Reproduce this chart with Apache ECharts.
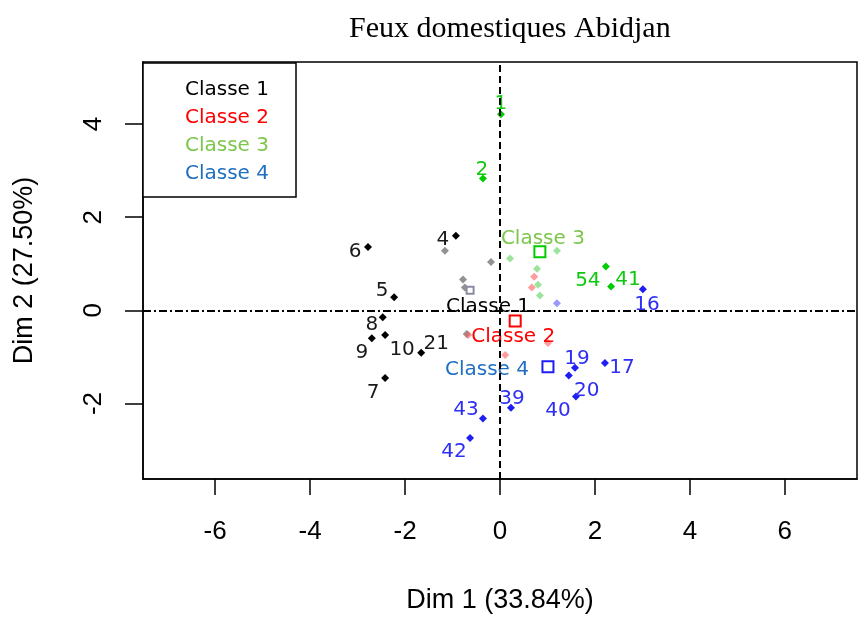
<!DOCTYPE html>
<html>
<head>
<meta charset="utf-8">
<script src="https://cdn.jsdelivr.net/npm/echarts@6/dist/echarts.min.js"></script>
<style>
  html, body { margin: 0; padding: 0; background: #fff; }
  #chart { width: 858px; height: 619px; }
</style>
</head>
<body>
<div id="chart"></div>
<script>
// class names for the legend and the centres
const classNames = ['Classe 1', 'Classe 2', 'Classe 3', 'Classe 4'];

// labelled individuals, per class
const c1Names = ['4', '5', '6', '7', '8', '9', '10', '21'];
const c1X = [-0.93, -2.23, -2.78, -2.42, -2.47, -2.70, -2.42, -1.66];
const c1Y = [1.60, 0.28, 1.36, -1.45, -0.15, -0.60, -0.53, -0.91];

const c3Names = ['1', '2', '54', '41'];
const c3X = [0.02, -0.36, 2.23, 2.34];
const c3Y = [4.21, 2.83, 0.94, 0.51];

const c4Names = ['16', '17', '19', '20', '39', '40', '42', '43'];
const c4X = [3.01, 2.21, 1.58, 1.45, 0.23, 1.60, -0.63, -0.36];
const c4Y = [0.45, -1.13, -1.23, -1.40, -2.09, -1.85, -2.74, -2.32];

// unlabelled (faint) points, per class
const c1FaintX = [-1.16, -0.19, -0.78, -0.74, -0.70];
const c1FaintY = [1.28, 1.04, 0.66, 0.49, -0.51];
const c2FaintX = [0.72, 0.67, 0.11, 1.01, -0.67];
const c2FaintY = [0.72, 0.49, -0.96, -0.70, -0.53];
const c3FaintX = [0.21, 0.78, 0.80, 0.84, 1.20];
const c3FaintY = [1.11, 0.89, 0.55, 0.32, 1.28];
const c4FaintX = [1.20];
const c4FaintY = [0.15];

// class centres
const centerX = [-0.63, 0.32, 0.84, 1.01];
const centerY = [0.43, -0.23, 1.26, -1.21];

// axis ticks
const xTicks = [-6, -4, -2, 0, 2, 4, 6];
const yTicks = [-2, 0, 2, 4];

// styling
const pointColors = ['#000000', '#ff0000', '#00cc00', '#1e1ef5'];
const labelColors = ['#1a1a1a', '#ff0000', '#10c810', '#2e2ef5'];
const classColors = ['#000000', '#ff0000', '#7cc64c', '#1f6fc0'];
const faintColors = ['rgba(110,110,110,0.75)', 'rgba(255,90,90,0.6)', 'rgba(90,210,90,0.6)', 'rgba(110,110,255,0.7)'];
const labelOffsets = {
  '1': [0, -10], '2': [-1, -9], '4': [-13, 4], '5': [-12, -6], '6': [-13, 5],
  '7': [-12, 15], '8': [-11, 7], '9': [-10, 15], '10': [17, 15], '21': [15, -9],
  '54': [-18, 14], '41': [17, -7], '16': [4, 15], '17': [17, 5], '19': [2, -9],
  '20': [18, 15], '39': [1, -9], '40': [-18, 14], '42': [-16, 14], '43': [-17, -9]
};
const centerLabelOffsets = [[18, 16], [-2, 16], [3, -13], [-61, 3]];

function labelled(names, xs, ys) {
  return names.map((n, i) => ({
    name: n,
    value: [xs[i], ys[i]],
    label: { offset: labelOffsets[n] }
  }));
}
function plain(xs, ys) {
  return xs.map((x, i) => [x, ys[i]]);
}

const labelledSets = [
  [c1Names, c1X, c1Y, 0],
  [c3Names, c3X, c3Y, 2],
  [c4Names, c4X, c4Y, 3]
];
const faintSets = [
  [c1FaintX, c1FaintY], [c2FaintX, c2FaintY], [c3FaintX, c3FaintY], [c4FaintX, c4FaintY]
];

const series = [];

// faint points first, so they sit underneath
faintSets.forEach(([xs, ys], k) => {
  series.push({
    name: classNames[k],
    type: 'scatter',
    symbol: 'diamond',
    symbolSize: 8,
    silent: true,
    itemStyle: { color: faintColors[k], opacity: 1 },
    data: plain(xs, ys)
  });
});

// class centres as hollow squares with class labels
classNames.forEach((c, k) => {
  series.push({
    name: c,
    type: 'scatter',
    symbol: 'emptyRect',
    symbolSize: k === 0 ? 7 : 11,
    itemStyle: { color: k === 2 ? '#00cc00' : (k === 0 ? '#8a8aa0' : pointColors[k]), borderWidth: 2, opacity: 1 },
    label: {
      show: true,
      position: 'inside',
      formatter: c,
      offset: centerLabelOffsets[k],
      fontFamily: 'DejaVu Sans',
      fontSize: 20,
      color: classColors[k]
    },
    data: [[centerX[k], centerY[k]]]
  });
});

labelledSets.forEach(([names, xs, ys, k]) => {
  series.push({
    name: classNames[k],
    type: 'scatter',
    symbol: 'diamond',
    symbolSize: 8,
    itemStyle: { color: pointColors[k], opacity: 1 },
    label: {
      show: true,
      position: 'inside',
      formatter: '{b}',
      fontFamily: 'DejaVu Sans',
      fontSize: 20,
      color: labelColors[k]
    },
    data: labelled(names, xs, ys)
  });
});

// dashed reference lines through the origin
series[0].markLine = {
  silent: true,
  symbol: 'none',
  label: { show: false },
  data: [
    { xAxis: 0, lineStyle: { type: [7, 4], width: 2, color: '#000' } },
    { yAxis: 0, lineStyle: { type: [8, 3, 2, 3], width: 1.8, color: '#000' } }
  ]
};

const chart = echarts.init(document.getElementById('chart'));
chart.setOption({
  backgroundColor: '#fff',
  animation: false,
  title: {
    text: 'Feux domestiques Abidjan',
    left: 344,
    top: 9,
    textStyle: { fontFamily: 'Liberation Serif', fontSize: 30, fontWeight: 'normal', color: '#000' }
  },
  legend: {
    orient: 'vertical',
    left: 143,
    top: 63,
    padding: [17, 27, 13, 37],
    itemGap: 8,
    itemWidth: 0,
    itemHeight: 20,
    icon: 'none',
    borderColor: '#000',
    borderWidth: 1.5,
    backgroundColor: '#fff',
    selectedMode: false,
    textStyle: { fontFamily: 'DejaVu Sans', fontSize: 20 },
    data: classNames.map((c, k) => ({ name: c, textStyle: { color: classColors[k] } }))
  },
  grid: {
    left: 143,
    top: 62,
    right: 1,
    bottom: 136,
    show: true,
    borderColor: '#000',
    borderWidth: 1.5
  },
  xAxis: {
    type: 'value',
    min: -7.52,
    max: 7.52,
    name: 'Dim 1 (33.84%)',
    nameLocation: 'middle',
    nameGap: 108,
    nameTextStyle: { fontFamily: 'Liberation Sans', fontSize: 27, color: '#000' },
    axisLine: { show: true, onZero: false, lineStyle: { color: '#000', width: 1.5 } },
    axisTick: { show: true, customValues: xTicks, length: 16, lineStyle: { color: '#000', width: 1.5 } },
    axisLabel: { customValues: xTicks, margin: 40, fontFamily: 'Liberation Sans', fontSize: 26, color: '#000' },
    splitLine: { show: false }
  },
  yAxis: {
    type: 'value',
    min: -3.62,
    max: 5.33,
    name: 'Dim 2 (27.50%)',
    nameLocation: 'middle',
    nameGap: 105,
    nameRotate: 90,
    nameTextStyle: { fontFamily: 'Liberation Sans', fontSize: 27, color: '#000' },
    axisLine: { show: true, onZero: false, lineStyle: { color: '#000', width: 1.5 } },
    axisTick: { show: true, customValues: yTicks, length: 18, lineStyle: { color: '#000', width: 1.5 } },
    axisLabel: { customValues: yTicks, rotate: 90, margin: 36, fontFamily: 'Liberation Sans', fontSize: 26, color: '#000' },
    splitLine: { show: false }
  },
  series: series
});
</script>
</body>
</html>
